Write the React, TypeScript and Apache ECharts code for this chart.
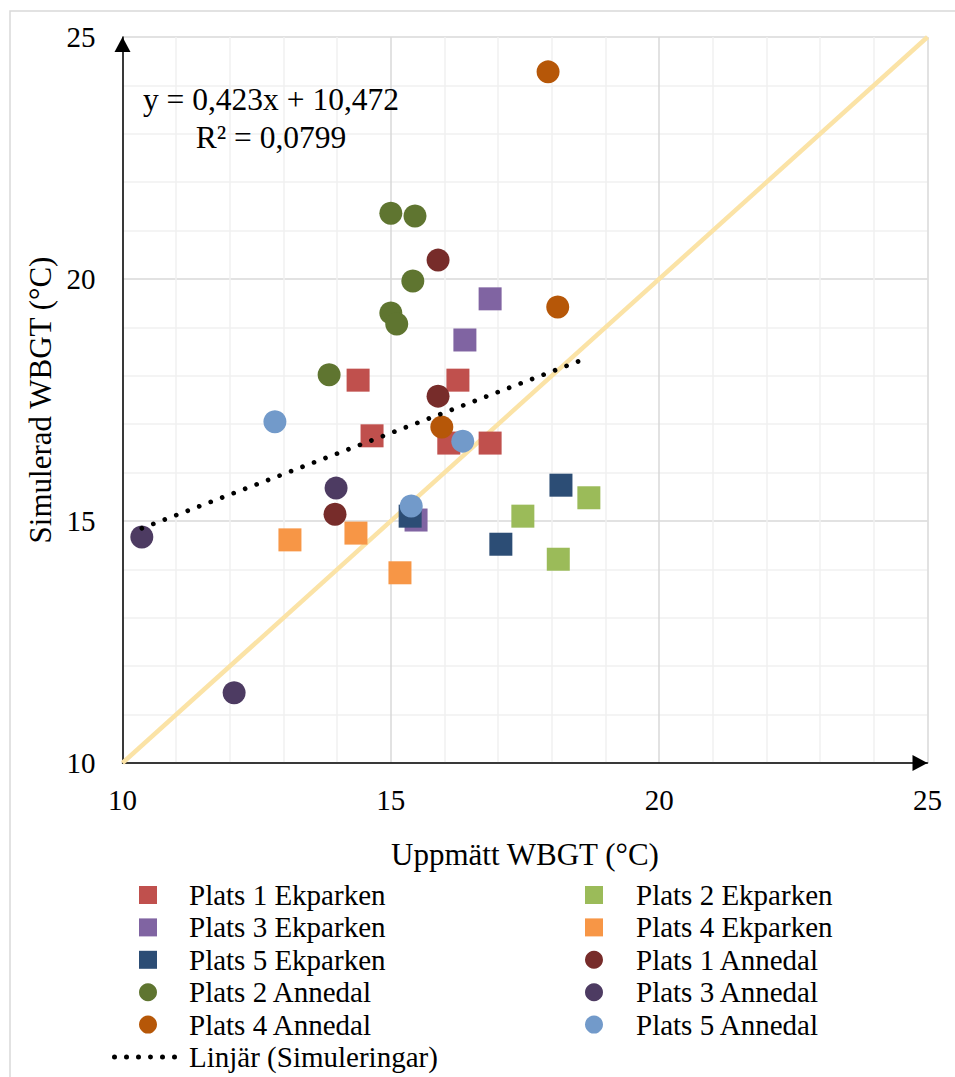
import React, { useEffect, useRef } from "react";
import * as echarts from "echarts";

const FONT = "Liberation Serif";

// Series names (legend order is row-wise, two columns)
const namesEk = ["Plats 1 Ekparken", "Plats 2 Ekparken", "Plats 3 Ekparken", "Plats 4 Ekparken", "Plats 5 Ekparken"];
const namesAn = ["Plats 1 Annedal", "Plats 2 Annedal", "Plats 3 Annedal", "Plats 4 Annedal", "Plats 5 Annedal"];
const trendName = "Linjär (Simuleringar)";

const colorsEk = ["#C0504D", "#9BBB59", "#8064A2", "#F79646", "#2C4D75"];
const colorsAn = ["#772C2A", "#5F7530", "#4D3B62", "#B65708", "#729ACA"];

// [Uppmätt, Simulerad]
const plats1Ek = [[14.39, 17.91], [14.65, 16.76], [16.25, 17.91], [16.08, 16.61], [16.85, 16.61]];
const plats2Ek = [[17.46, 15.10], [18.12, 14.21], [18.69, 15.48]];
const plats3Ek = [[16.85, 19.59], [16.38, 18.74], [15.47, 15.02]];
const plats4Ek = [[13.12, 14.61], [14.35, 14.75], [15.17, 13.93]];
const plats5Ek = [[15.36, 15.10], [17.05, 14.52], [18.17, 15.74]];
const plats1An = [[15.88, 20.39], [15.88, 17.58], [13.96, 15.14]];
const plats2An = [[15.00, 21.36], [15.45, 21.30], [15.41, 19.96], [15.00, 19.30], [15.11, 19.07], [13.85, 18.02]];
const plats3An = [[10.36, 14.67], [13.98, 15.68], [12.08, 11.45]];
const plats4An = [[17.93, 24.28], [18.11, 19.42], [15.95, 16.94]];
const plats5An = [[12.84, 17.05], [16.34, 16.65], [15.38, 15.31]];

const dataEk = [plats1Ek, plats2Ek, plats3Ek, plats4Ek, plats5Ek];
const dataAn = [plats1An, plats2An, plats3An, plats4An, plats5An];

// Trendline endpoints and 1:1 reference line
const trendLine = [[10.36, 14.85], [18.52, 18.31]];
const refLine = [[10, 10], [25, 25]];

const equationText = "y = 0,423x + 10,472";
const r2Text = "R² = 0,0799";

const axisMin = 10;
const axisMax = 25;
const axisInterval = 5;

const leftLegend = ["Plats 1 Ekparken", "Plats 3 Ekparken", "Plats 5 Ekparken", "Plats 2 Annedal", "Plats 4 Annedal"];
const rightLegend = ["Plats 2 Ekparken", "Plats 4 Ekparken", "Plats 1 Annedal", "Plats 3 Annedal", "Plats 5 Annedal"];

const dotsIcon =
  "path://" +
  [0, 12, 24, 36, 48, 60]
    .map((x) => `M${x},2.5a2.5,2.5 0 1,0 5,0a2.5,2.5 0 1,0 -5,0Z`)
    .join(" ");

function buildOption() {
  const axisCommon = {
    type: "value",
    min: axisMin,
    max: axisMax,
    interval: axisInterval,
    axisLine: {
      show: true,
      onZero: false,
      symbol: ["none", "triangle"],
      symbolSize: [16, 15],
      symbolOffset: [0, -7.5],
      lineStyle: { color: "#000", width: 1.5 },
    },
    axisTick: { show: false },
    minorTick: { show: false, splitNumber: 5 },
    splitLine: { show: true, lineStyle: { color: "#D9D9D9", width: 1.5 } },
    minorSplitLine: { show: true, lineStyle: { color: "#F0F0F0", width: 1.5 } },
    nameLocation: "middle",
    nameTextStyle: { fontFamily: FONT, fontSize: 31, color: "#000" },
    axisLabel: { fontFamily: FONT, fontSize: 29, color: "#000" },
  };

  const scatterSeries: any[] = [];
  namesEk.forEach((n, i) => {
    scatterSeries.push({
      type: "scatter",
      name: n,
      data: dataEk[i],
      symbol: "rect",
      symbolSize: 23,
      itemStyle: { color: colorsEk[i], opacity: 1 },
      z: 3,
    });
  });
  namesAn.forEach((n, i) => {
    scatterSeries.push({
      type: "scatter",
      name: n,
      data: dataAn[i],
      symbol: "circle",
      symbolSize: 23,
      itemStyle: { color: colorsAn[i], opacity: 1 },
      z: 3,
    });
  });

  const legendText = (pad: number) => ({
    fontFamily: FONT,
    fontSize: 29,
    color: "#000",
    lineHeight: 32.4,
    padding: [0, 0, 0, pad],
  });

  return {
    animation: false,
    backgroundColor: "#fff",
    grid: { left: 122.5, top: 37, width: 805, height: 726, containLabel: false },
    xAxis: {
      ...axisCommon,
      name: "Uppmätt WBGT (°C)",
      nameGap: 76,
      axisLabel: { ...axisCommon.axisLabel, margin: 22 },
    },
    yAxis: {
      ...axisCommon,
      name: "Simulerad WBGT (°C)",
      nameGap: 67,
      axisLabel: { ...axisCommon.axisLabel, margin: 27 },
    },
    legend: [
      {
        data: leftLegend,
        orient: "vertical",
        left: 139,
        top: 878.8,
        padding: 0,
        itemGap: 0,
        itemWidth: 18,
        itemHeight: 18,
        selectedMode: false,
        itemStyle: { opacity: 1 },
        textStyle: legendText(27),
      },
      {
        data: rightLegend,
        orient: "vertical",
        left: 585,
        top: 878.8,
        padding: 0,
        itemGap: 0,
        itemWidth: 18,
        itemHeight: 18,
        selectedMode: false,
        itemStyle: { opacity: 1 },
        textStyle: legendText(28),
      },
      {
        data: [{ name: trendName, icon: dotsIcon }],
        orient: "vertical",
        left: 112,
        top: 1040.8,
        padding: 0,
        itemGap: 0,
        itemWidth: 65,
        itemHeight: 5,
        selectedMode: false,
        textStyle: legendText(7),
      },
    ],
    graphic: [
      {
        type: "rect",
        shape: { x: 10, y: 11, width: 1000, height: 1100 },
        style: { fill: "none", stroke: "#D9D9D9", lineWidth: 1.5 },
        silent: true,
        z: -10,
      },
      {
        type: "text",
        x: 271,
        y: 99,
        style: {
          text: equationText,
          fontFamily: FONT,
          fontSize: 31.5,
          fill: "#000",
          align: "center",
          verticalAlign: "middle",
        },
        z: 10,
      },
      {
        type: "text",
        x: 271,
        y: 137,
        style: {
          text: r2Text,
          fontFamily: FONT,
          fontSize: 31.5,
          fill: "#000",
          align: "center",
          verticalAlign: "middle",
        },
        z: 10,
      },
    ],
    series: [
      {
        type: "line",
        name: "1:1",
        data: refLine,
        symbol: "none",
        silent: true,
        lineStyle: { color: "#FBE3A6", width: 4.5 },
        itemStyle: { color: "#FBE3A6" },
        z: 1,
      },
      ...scatterSeries,
      {
        type: "line",
        name: trendName,
        data: trendLine,
        symbol: "none",
        silent: true,
        lineStyle: { color: "#000", width: 4.7, type: [0.01, 12.28], cap: "round" },
        itemStyle: { color: "#000" },
        z: 5,
      },
    ],
  };
}

export default function App() {
  const ref = useRef<HTMLDivElement>(null);
  useEffect(() => {
    if (!ref.current) return;
    const chart = echarts.init(ref.current, null, { renderer: "svg" });
    chart.setOption(buildOption() as any);
    return () => chart.dispose();
  }, []);
  return (
    <div
      ref={ref}
      style={{ position: "absolute", left: 0, top: 0, width: 955, height: 1077 }}
    />
  );
}
